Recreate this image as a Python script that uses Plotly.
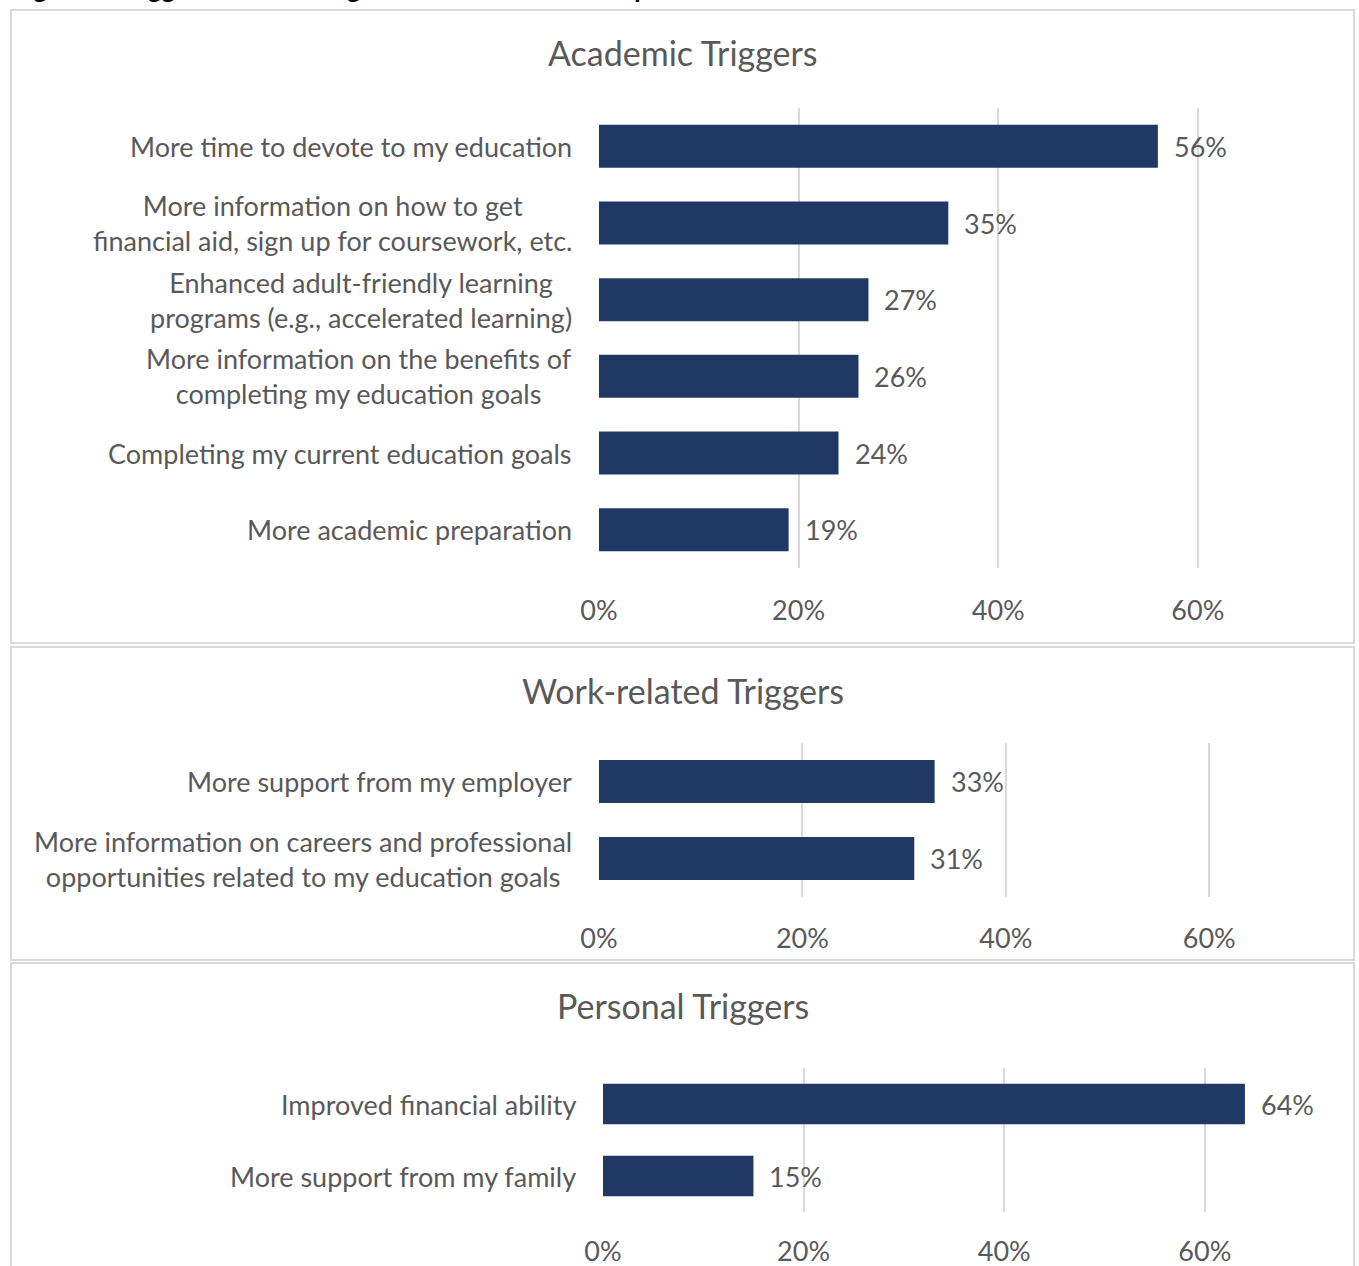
import plotly.graph_objects as go

# Canvas size
W, H = 1359, 1266

# ---- Data -------------------------------------------------------------
academic_labels = [
    "More time to devote to my education",
    "More information on how to get<br>financial aid, sign up for coursework, etc.",
    "Enhanced adult-friendly learning<br>programs (e.g., accelerated learning)",
    "More information on the benefits of<br>completing my education goals",
    "Completing my current education goals",
    "More academic preparation",
]
academic_values = [0.56, 0.35, 0.27, 0.26, 0.24, 0.19]

work_labels = [
    "More support from my employer",
    "More information on careers and professional<br>opportunities related to my education goals",
]
work_values = [0.33, 0.31]

personal_labels = [
    "Improved financial ability",
    "More support from my family",
]
personal_values = [0.64, 0.15]

panel_titles = ["Academic Triggers", "Work-related Triggers", "Personal Triggers"]
figure_title = "Figure 9: Triggers that would get adult learners to complete their education"

tick_vals = [0, 0.2, 0.4, 0.6]
tick_text = ["0%", "20%", "40%", "60%"]

# ---- Style ------------------------------------------------------------
NAVY = "#203864"
GREY_TEXT = "#595959"
GRID = "#d9d9d9"
FONT = "Lato"

# Panel geometry in pixels: zero-x position, pixels per 100%, plot top/bottom,
# frame box, title centre, tick label standoff
panels = [
    dict(labels=academic_labels, values=academic_values, x0=599, ppu=998,
         top=108, bottom=568, box=(11, 10, 1354, 643), title_y=53, standoff=24),
    dict(labels=work_labels, values=work_values, x0=599, ppu=1017,
         top=743, bottom=897, box=(11, 647, 1354, 960), title_y=690, standoff=23),
    dict(labels=personal_labels, values=personal_values, x0=603, ppu=1003,
         top=1068, bottom=1212, box=(11, 963, 1354, 1290), title_y=1005, standoff=21),
]

X_MAX = 0.7

fig = go.Figure()
annotations = []
shapes = []
layout_axes = {}

for i, (p, title) in enumerate(zip(panels, panel_titles), start=1):
    xa = "x" if i == 1 else f"x{i}"
    ya = "y" if i == 1 else f"y{i}"
    xkey = "xaxis" if i == 1 else f"xaxis{i}"
    ykey = "yaxis" if i == 1 else f"yaxis{i}"

    fig.add_trace(go.Bar(
        x=p["values"], y=p["labels"], orientation="h",
        marker=dict(color=NAVY, line=dict(width=0)),
        xaxis=xa, yaxis=ya, hoverinfo="skip", showlegend=False,
    ))

    layout_axes[xkey] = dict(
        domain=[p["x0"] / W, (p["x0"] + X_MAX * p["ppu"]) / W],
        range=[0, X_MAX], anchor=ya, automargin=False,
        tickvals=tick_vals, ticktext=tick_text,
        showgrid=True, gridcolor=GRID, gridwidth=2,
        zeroline=False, showline=False, ticks="",
        ticklabelstandoff=p["standoff"],
        tickfont=dict(family=FONT, size=27, color=GREY_TEXT),
        fixedrange=True,
    )
    layout_axes[ykey] = dict(
        domain=[1 - p["bottom"] / H, 1 - p["top"] / H],
        anchor=xa, type="category", automargin=False,
        categoryorder="array", categoryarray=p["labels"],
        autorange="reversed", showticklabels=False,
        showgrid=False, zeroline=False, showline=False, ticks="",
        fixedrange=True,
    )

    # Category labels (centred block, right-aligned beside the axis)
    for lab in p["labels"]:
        annotations.append(dict(
            x=(p["x0"] - 25) / W, xref="paper", xanchor="right",
            y=lab, yref=ya, yanchor="middle",
            text=lab, align="center", showarrow=False,
            font=dict(family=FONT, size=27, color=GREY_TEXT),
        ))

    # Value labels at bar ends
    for lab, v in zip(p["labels"], p["values"]):
        annotations.append(dict(
            x=v, xref=xa, xanchor="left", xshift=14,
            y=lab, yref=ya, yanchor="middle",
            text=f"{round(v * 100)}%", showarrow=False,
            font=dict(family=FONT, size=27, color=GREY_TEXT),
        ))

    # Panel title
    annotations.append(dict(
        x=683 / W, xref="paper", xanchor="center",
        y=1 - p["title_y"] / H, yref="paper", yanchor="middle",
        text=title, showarrow=False,
        font=dict(family=FONT, size=34, color=GREY_TEXT),
    ))

    # Panel frame
    bx0, by0, bx1, by1 = p["box"]
    shapes.append(dict(
        type="rect", xref="paper", yref="paper",
        x0=bx0 / W, x1=bx1 / W, y0=1 - by1 / H, y1=1 - by0 / H,
        line=dict(color=GRID, width=2), fillcolor="rgba(0,0,0,0)", layer="below",
    ))

# Figure caption running off the top edge
annotations.append(dict(
    x=10 / W, xref="paper", xanchor="left",
    y=1, yref="paper", yanchor="bottom", yshift=-6,
    text=f"<b>{figure_title}</b>", showarrow=False,
    font=dict(family=FONT, size=26, color="#000000"),
))

fig.update_layout(
    width=W, height=H,
    margin=dict(l=0, r=0, t=0, b=0, autoexpand=False),
    paper_bgcolor="white", plot_bgcolor="white",
    bargap=0.44,
    annotations=annotations, shapes=shapes,
    **layout_axes,
)

fig.write_html("out.html", config={"displayModeBar": False})
